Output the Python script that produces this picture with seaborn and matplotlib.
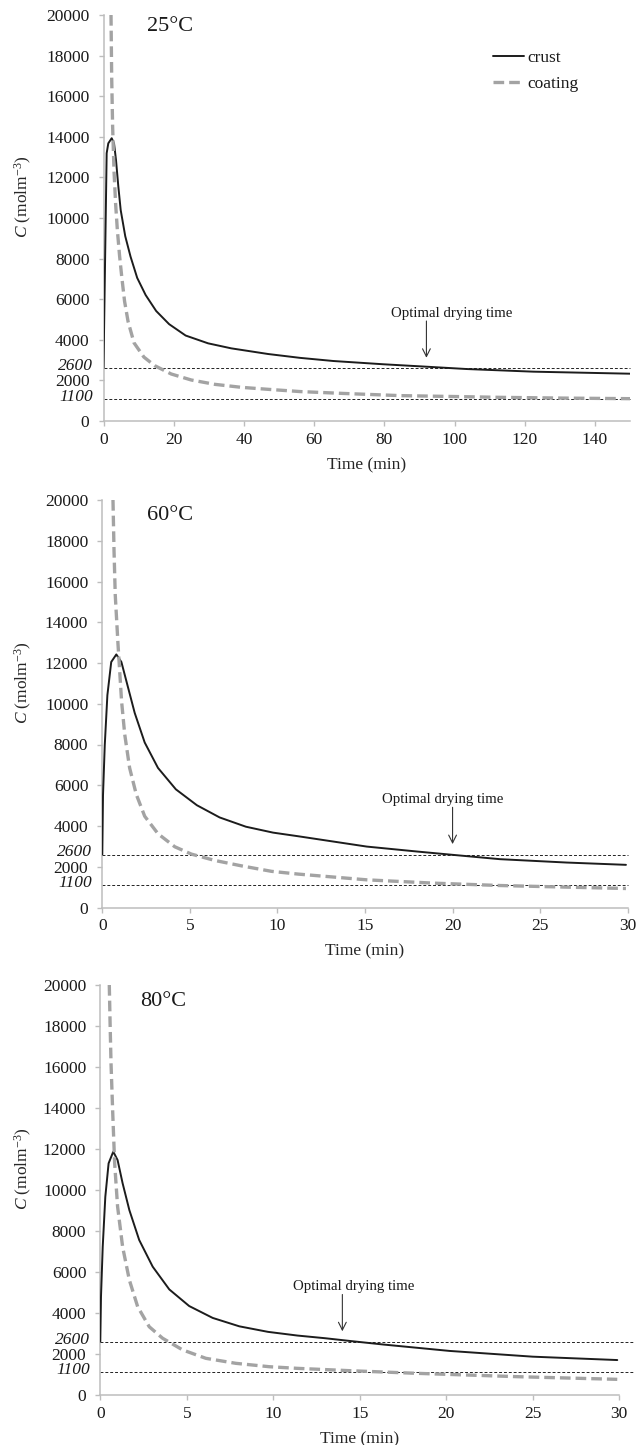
import numpy as np
import pandas as pd
import matplotlib
matplotlib.use("Agg")
import matplotlib.pyplot as plt
import seaborn as sns

# ---- data: concentration C (mol m^-3) vs time (min) ----
temps = ["25°C", "60°C", "80°C"]

t25_crust = [0, 0.9, 1.37, 2.33, 3.0, 3.56, 4.23, 4.9, 6.2, 7.7, 9.6, 12.0, 15.0, 18.7, 23.4, 29.8,
             36.4, 46.9, 56, 65.5, 79.7, 92, 103.5, 122.5, 150]
c25_crust = [2600, 13190, 13680, 13930, 13680, 12860, 11540, 10390, 9100, 8100, 7050, 6207, 5420,
             4770, 4210, 3826, 3579, 3300, 3110, 2955, 2795, 2675, 2560, 2430, 2330]
t25_coat = [2.14, 2.33, 2.6, 3.0, 3.45, 3.95, 4.6, 5.2, 6.0, 7.0, 8.7, 11.5, 14.6, 19.3, 25, 31.7,
            39.3, 46.9, 56, 68, 84.5, 100, 113, 130, 150]
c25_coat = [20000, 16960, 14500, 12300, 10700, 9400, 8100, 7100, 5900, 4900, 3850, 3150, 2725, 2315,
            2020, 1806, 1658, 1560, 1450, 1360, 1250, 1205, 1165, 1130, 1100]

t60_crust = [0, 0.04, 0.14, 0.29, 0.51, 0.8, 1.09, 1.47, 1.85, 2.42, 3.18, 4.2, 5.4, 6.7, 8.2, 9.75,
             11.2, 15.1, 18.0, 20.0, 22.7, 26.5, 29.9]
c60_crust = [2600, 5500, 7960, 10420, 12050, 12420, 12050, 10800, 9550, 8100, 6850, 5800, 5020, 4420,
             3965, 3675, 3495, 2990, 2745, 2585, 2372, 2207, 2094]
t60_coat = [0.61, 0.67, 0.74, 0.9, 1.1, 1.28, 1.56, 1.94, 2.42, 3.18, 4.14, 5.09, 6.42, 7.94, 9.66,
            11.18, 15.1, 18.9, 22.7, 26.5, 29.9]
c60_coat = [20000, 17500, 15330, 12870, 10130, 8500, 6850, 5550, 4480, 3620, 2980, 2620, 2310, 2045,
            1775, 1640, 1358, 1196, 1079, 1000, 932]

t80_crust = [0, 0.04, 0.14, 0.29, 0.48, 0.75, 1.0, 1.29, 1.68, 2.25, 3.03, 3.99, 5.14, 6.5, 8.04,
             9.7, 11.4, 13.0, 14.5, 16.4, 20.2, 25.0, 29.9]
c80_crust = [2600, 4800, 7230, 9670, 11300, 11870, 11460, 10330, 9020, 7560, 6260, 5150, 4340, 3760,
             3350, 3080, 2900, 2770, 2630, 2460, 2150, 1870, 1705]
t80_coat = [0.52, 0.57, 0.62, 0.72, 0.83, 1.0, 1.29, 1.68, 2.16, 2.83, 3.6, 4.76, 6.1, 7.84, 9.77,
            11.4, 14.4, 18.3, 24.1, 29.9]
c80_coat = [20000, 18000, 16180, 13740, 11300, 9190, 7230, 5610, 4310, 3330, 2770, 2200, 1790, 1545,
            1380, 1300, 1187, 1057, 894, 764]

# threshold concentrations and optimal drying times
thresholds = [2600, 1100]
opt_times = [92, 20, 14]
x_max = [150, 30, 30]
x_step = [20, 5, 5]

series = [
    (t25_crust, c25_crust, t25_coat, c25_coat),
    (t60_crust, c60_crust, t60_coat, c60_coat),
    (t80_crust, c80_crust, t80_coat, c80_coat),
]

# ---- style ----
sns.set_theme(style="white")
plt.rcParams["font.family"] = ["Liberation Serif", "DejaVu Serif"]
plt.rcParams["mathtext.fontset"] = "custom"
plt.rcParams["mathtext.rm"] = "Liberation Serif"
plt.rcParams["mathtext.it"] = "Liberation Serif:italic"
plt.rcParams["text.color"] = "#1a1a1a"
plt.rcParams["xtick.color"] = "#1a1a1a"
plt.rcParams["ytick.color"] = "#1a1a1a"

W, H = 638, 1445
fig = plt.figure(figsize=(W / 100, H / 100), dpi=100)
fig.patch.set_facecolor("white")

# panel boxes in pixels: left, right, top, bottom
boxes = [(103.5, 630, 15, 421), (102.3, 627.7, 500, 907.5), (100.3, 619, 985, 1395)]
ref_xmax = [1.0, 1.0, 1.027]
label_dx = [18, -7, 8]
temp_pos = [(0.126, 0.971), (0.129, 0.963), (0.121, 0.959)]

palette = {"crust": "#1c1c1c", "coating": "#a3a3a3"}
dashes = {"crust": "", "coating": (3.2, 1.5)}
sizes = {"crust": 1.4, "coating": 2.4}
order = ["crust", "coating"]

for i, (tc, cc, tg, cg) in enumerate(series):
    l, r, top, bot = boxes[i]
    ax = fig.add_axes([l / W, 1 - bot / H, (r - l) / W, (bot - top) / H])
    df = pd.concat([
        pd.DataFrame({"time": tc, "C": cc, "layer": "crust"}),
        pd.DataFrame({"time": tg, "C": cg, "layer": "coating"}),
    ], ignore_index=True)

    sns.lineplot(data=df, x="time", y="C", hue="layer", style="layer", size="layer",
                 hue_order=order, style_order=order, size_order=order,
                 palette=palette, dashes=dashes, sizes=sizes,
                 estimator=None, sort=True, ax=ax, legend=(i == 0), zorder=3)

    for thr in thresholds:
        ax.axhline(thr, xmin=0, xmax=ref_xmax[i], color="#222222", lw=0.7,
                   dashes=(3, 2), clip_on=False, zorder=2)
        ax.annotate(str(thr), xy=(0, thr), xycoords=("axes fraction", "data"),
                    xytext=(-7.5, 1.5), textcoords="offset points",
                    ha="right", va="center", fontsize=12.5, style="italic")

    ax.set_xlim(0, x_max[i])
    ax.set_ylim(0, 20000)
    ax.set_xticks(np.arange(0, x_max[i] + 0.1 if x_max[i] == 30 else x_max[i], x_step[i]))
    ax.set_yticks(np.arange(0, 20001, 2000))

    for side in ["top", "right"]:
        ax.spines[side].set_visible(False)
    for side in ["left", "bottom"]:
        ax.spines[side].set_color("#bdbdbd")
        ax.spines[side].set_linewidth(1.1)
    ax.tick_params(axis="both", which="major", direction="out", length=3.6, width=1,
                   color="#bdbdbd", labelsize=12.5, bottom=True, left=True)
    ax.tick_params(axis="y", pad=6.5)
    ax.tick_params(axis="x", pad=4)

    ax.set_xlabel("Time (min)", fontsize=12.5)
    ax.set_ylabel("$C$ (molm$^{-3}$)", fontsize=12.5)
    h_ax = bot - top
    ax.xaxis.set_label_coords(0.5, -36 / h_ax)
    ax.yaxis.set_label_coords((34 - l) / (r - l), 0.552)

    ax.text(temp_pos[i][0], temp_pos[i][1], temps[i], transform=ax.transAxes,
            ha="center", va="center", fontsize=16)

    # optimal drying time marker
    t_opt = opt_times[i]
    ax.annotate("", xy=(t_opt, thresholds[0]), xycoords="data",
                xytext=(0, 34), textcoords="offset points",
                arrowprops=dict(arrowstyle="->", lw=0.8, color="#333333",
                                shrinkA=0, shrinkB=7.5, mutation_scale=14))
    ax.annotate("Optimal drying time", xy=(t_opt, thresholds[0]), xycoords="data",
                xytext=(label_dx[i], 35), textcoords="offset points",
                ha="center", va="bottom", fontsize=10.7)

    if i == 0:
        handles, labels = ax.get_legend_handles_labels()
        ax.legend(handles, labels, loc="upper left", bbox_to_anchor=(0.739, 0.913),
                  frameon=False, fontsize=12.5, handlelength=1.8, handletextpad=0.2,
                  labelspacing=0.52, borderpad=0, borderaxespad=0)

fig.savefig("out.png", dpi=100, facecolor="white")
